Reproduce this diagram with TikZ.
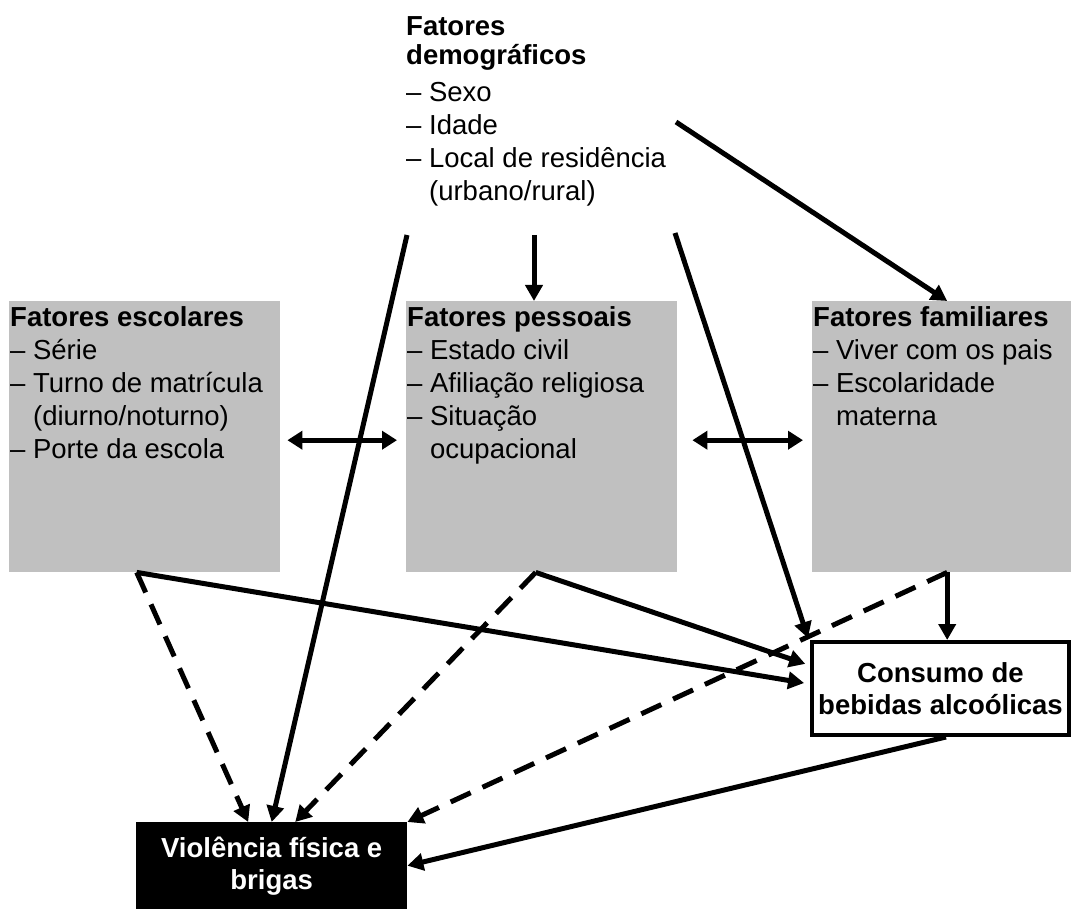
\documentclass[tikz,border=0pt]{standalone}
\usepackage{fontspec}
\setmainfont{Liberation Sans}
\usetikzlibrary{arrows.meta,positioning}
\definecolor{boxgray}{RGB}{192,192,192}
\newcommand{\fitem}{– }
\newcommand{\fcont}{\hphantom{– }}

\begin{document}
\begin{tikzpicture}[x=1pt,y=-1pt,
  fator/.style={fill=boxgray,anchor=north west,inner xsep=1pt,inner ysep=5pt,font=\fontsize{27.5}{33}\selectfont},
  efeito/.style={anchor=north west,align=center,inner sep=0pt,font=\bfseries\fontsize{27.5}{32}\selectfont},
  seta/.style={line width=5pt,-{Triangle[length=16pt,width=17pt]}},
  tracejada/.style={seta,dash pattern=on 22pt off 13pt},
  dupla/.style={line width=5pt,{Triangle[length=15pt,width=18pt]}-{Triangle[length=15pt,width=18pt]}}]
\useasboundingbox (0,0) rectangle (1071,909);
\node[anchor=base west,inner sep=0pt,font=\fontsize{27.5}{33}\selectfont] (demo) at (406,36) {\parbox[t]{270pt}{\textbf{Fatores}\\[-4pt]\textbf{demográficos}\\[4pt]\fitem Sexo\\\fitem Idade\\\fitem Local de residência\\\fcont(urbano/rural)}};
\node[fator] (esc) at (9,301) {\parbox[t][261pt][t]{269pt}{\raggedright\textbf{Fatores escolares}\\\fitem Série\\\fitem Turno de matrícula\\\fcont(diurno/noturno)\\\fitem Porte da escola}};
\node[fator] (pes) at (406,301) {\parbox[t][261pt][t]{269pt}{\raggedright\textbf{Fatores pessoais}\\\fitem Estado civil\\\fitem Afiliação religiosa\\\fitem Situação\\\fcont ocupacional}};
\node[fator] (fam) at (812,301) {\parbox[t][261pt][t]{257pt}{\raggedright\textbf{Fatores familiares}\\\fitem Viver com os pais\\\fitem Escolaridade\\\fcont materna}};
\node[efeito,draw,line width=4pt,minimum width=257pt,minimum height=93pt] (cons) at (810,640) {Consumo de\\bebidas alcoólicas};
\node[efeito,fill=black,text=white,minimum width=271pt,minimum height=87pt] (viol) at (136,822) {Violência física e\\brigas};
\coordinate (dl) at (407,235);
\coordinate (dm) at (534,235);
\coordinate (dr) at (675,233);
\coordinate (dd) at (676,122);
\coordinate (eb) at ([xshift=-8pt]esc.south);
\coordinate (pb) at ([xshift=-6pt]pes.south);
\coordinate (fb) at ([xshift=5.5pt]fam.south);
\draw[seta] (dl) -- (viol.north);
\draw[seta] (dm) -- (dm |- pes.north);
\draw[seta] (dr) -- ([shift={(-2pt,2pt)}]cons.north west);
\draw[seta] (dd) -- ([xshift=5.5pt]fam.north);
\draw[dupla,shorten <=7pt,shorten >=9pt] ([yshift=-3.5pt]esc.east) -- ([yshift=-3.5pt]pes.west);
\draw[dupla,shorten <=15pt,shorten >=9pt] ([yshift=-3.5pt]pes.east) -- ([yshift=-3.5pt]fam.west);
\draw[seta,shorten >=6pt] (eb) -- ([yshift=4.5pt]cons.west);
\draw[seta,shorten >=5pt] (pb) -- ([yshift=23pt]cons.west);
\draw[seta] (fb) -- (fb |- cons.north);
\draw[tracejada] (eb) -- ([xshift=-23.5pt]viol.north);
\draw[tracejada] (pb) -- ([xshift=23.5pt]viol.north);
\draw[tracejada] (fb) -- (viol.north east);
\draw[seta] ([xshift=5.5pt]cons.south) -- (viol.east);
\end{tikzpicture}
\end{document}
